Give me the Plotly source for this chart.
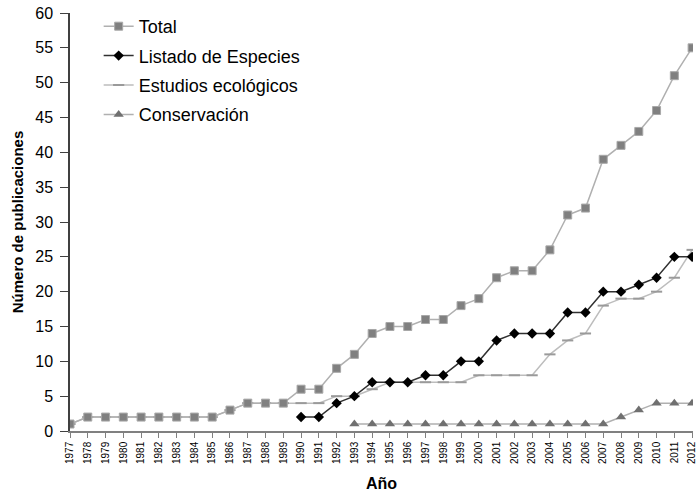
import plotly.graph_objects as go

years = list(range(1977, 2013))
total = [1, 2, 2, 2, 2, 2, 2, 2, 2, 3, 4, 4, 4, 6, 6, 9, 11, 14, 15, 15, 16, 16, 18, 19,
         22, 23, 23, 26, 31, 32, 39, 41, 43, 46, 51, 55]
listado_years = list(range(1990, 2013))
listado = [2, 2, 4, 5, 7, 7, 7, 8, 8, 10, 10, 13, 14, 14, 14, 17, 17, 20, 20, 21, 22, 25, 25]
eco_years = list(range(1977, 2013))
ecologicos = [1, 2, 2, 2, 2, 2, 2, 2, 2, 3, 4, 4, 4, 4, 4, 5, 5, 6, 7, 7, 7, 7, 7, 8,
              8, 8, 8, 11, 13, 14, 18, 19, 19, 20, 22, 26]
cons_years = list(range(1993, 2013))
conservacion = [1, 1, 1, 1, 1, 1, 1, 1, 1, 1, 1, 1, 1, 1, 1, 2, 3, 4, 4, 4]

FONT = "Liberation Sans, Arial, sans-serif"

fig = go.Figure()
fig.add_trace(go.Scatter(x=eco_years, y=ecologicos, name="Estudios ecológicos", legendrank=3,
                         legendgroup="c",
                         mode="lines+markers",
                         line=dict(color="#bdbdbd", width=1.5),
                         marker=dict(symbol="line-ew", size=8, line=dict(color="#9a9a9a", width=2))))
fig.add_trace(go.Scatter(x=years, y=total, name="Total", legendrank=1, legendgroup="a",
                         mode="lines+markers",
                         line=dict(color="#b0b0b0", width=1.5),
                         marker=dict(symbol="square", size=8, color="#808080",
                                     line=dict(color="#a8a8a8", width=1))))
fig.add_trace(go.Scatter(x=listado_years, y=listado, name="Listado de Especies", legendrank=2,
                         legendgroup="b",
                         mode="lines+markers",
                         line=dict(color="#303030", width=1.5),
                         marker=dict(symbol="diamond", size=8, color="#000000")))
fig.add_trace(go.Scatter(x=cons_years, y=conservacion, name="Conservación", legendrank=4,
                         legendgroup="d",
                         mode="lines+markers",
                         line=dict(color="#b0b0b0", width=1.5),
                         marker=dict(symbol="triangle-up", size=9, color="#707070")))

fig.update_layout(
    width=697, height=493,
    margin=dict(l=70, r=4, t=13, b=62),
    paper_bgcolor="white", plot_bgcolor="white",
    font=dict(family=FONT, color="#000000"),
    showlegend=True,
    legend=dict(x=0.046, y=1.012, xanchor="left", yanchor="top",
                font=dict(size=18, family=FONT), tracegroupgap=3,
                bgcolor="rgba(0,0,0,0)"),
    xaxis=dict(range=[1977, 2012.05], tickmode="array", tickvals=years,
               ticktext=[str(y) for y in years], tickangle=-90,
               tickfont=dict(size=10), showgrid=False, zeroline=False,
               showline=True, linecolor="#808080", linewidth=1.5,
               ticks="outside", ticklen=5, tickcolor="#808080",
               automargin=False, ticklabeloverflow="allow",
               title=dict(text="<b>Año</b>", font=dict(size=16), standoff=15)),
    yaxis=dict(range=[0, 60], dtick=5, tickfont=dict(size=16),
               showgrid=False, zeroline=False,
               showline=True, linecolor="#404040", linewidth=1.5,
               ticks="outside", ticklen=8, tickcolor="#404040",
               ticklabelstandoff=4,
               automargin=False,
               title=dict(text="<b>Número de publicaciones</b>",
                          font=dict(size=15, family=FONT),
                          standoff=8)),
)
fig.write_html("out.html", post_script="document.body.style.margin='0';",
               config={"displayModeBar": False})
